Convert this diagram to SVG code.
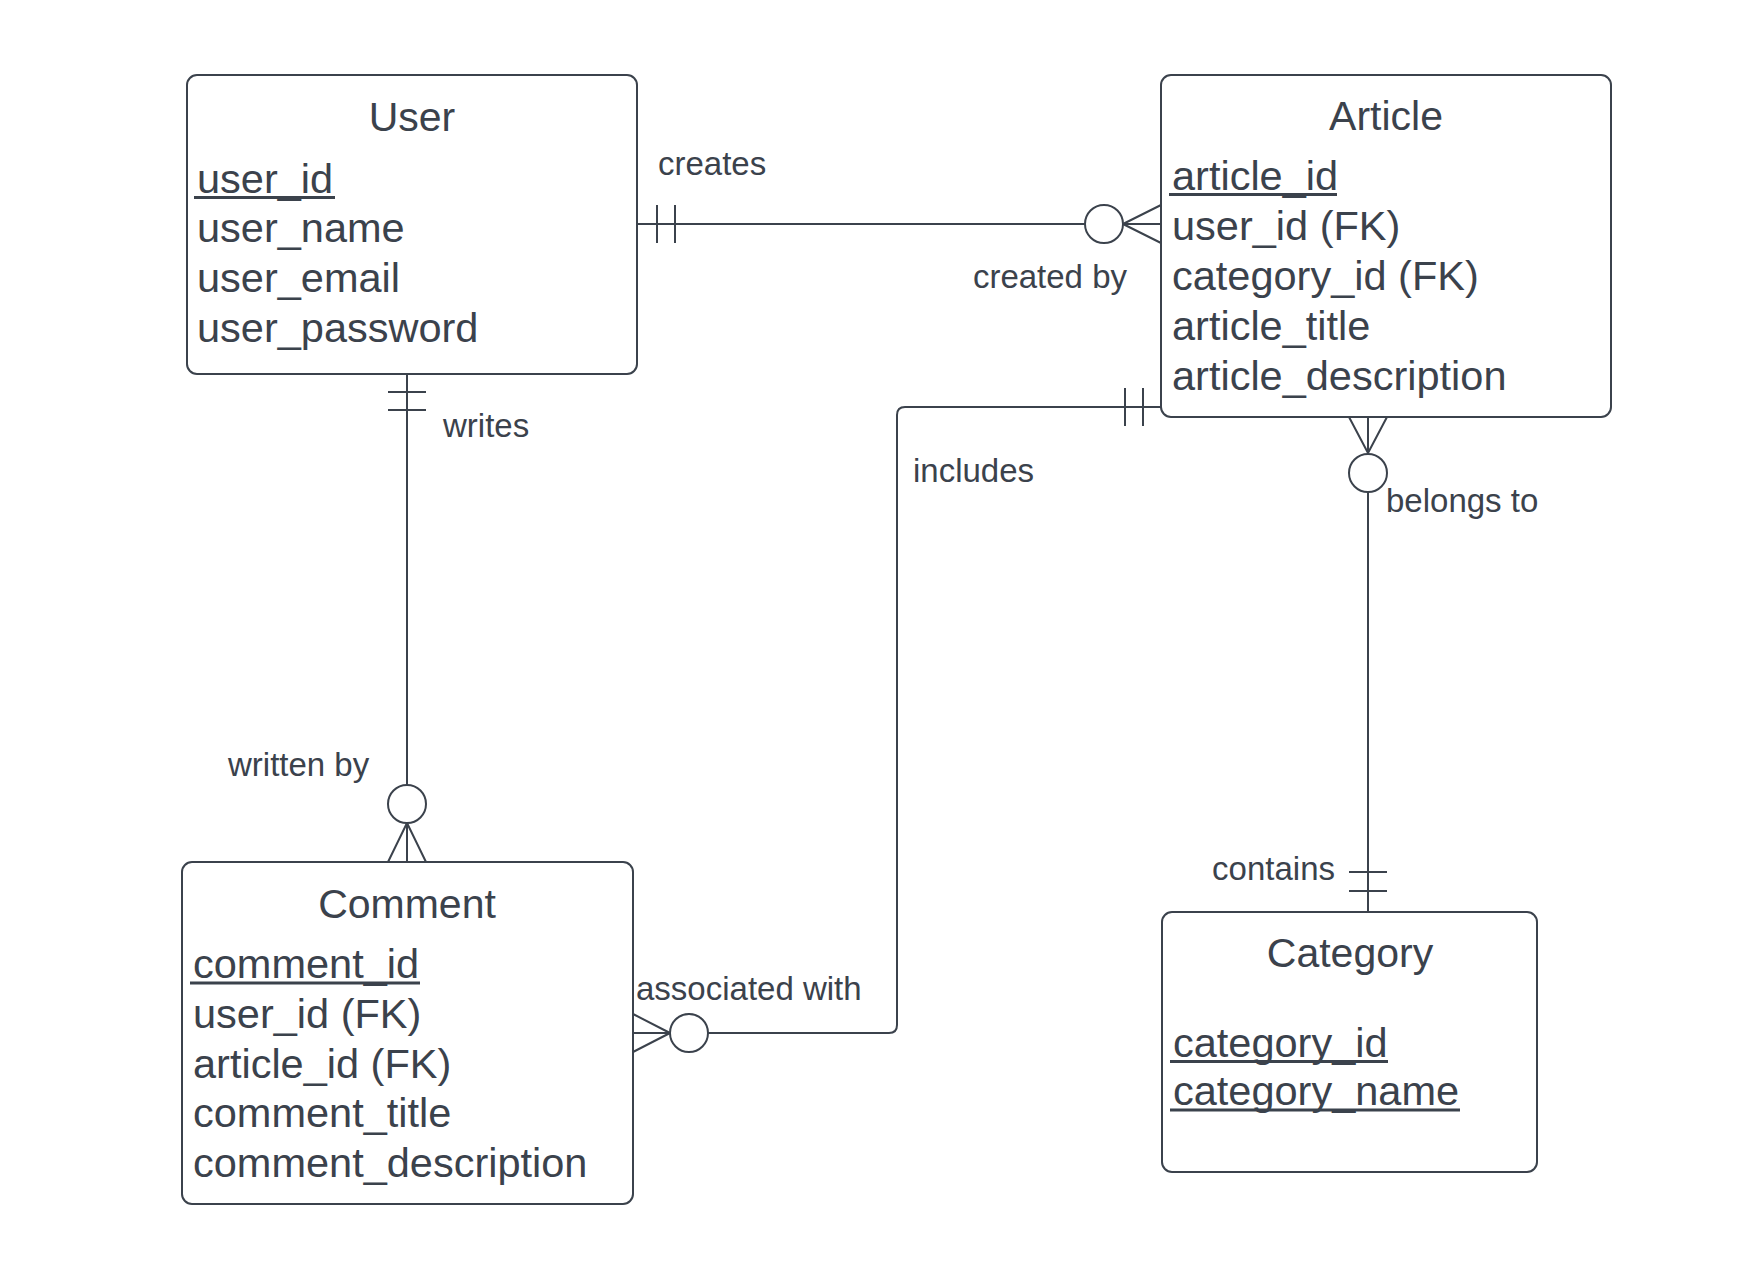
<svg xmlns="http://www.w3.org/2000/svg" width="1763" height="1281" viewBox="0 0 1763 1281">
<style>
.box{fill:#fff;stroke:#3b424c;stroke-width:2}
.ln{fill:none;stroke:#3b424c;stroke-width:2}
.title{font-family:"Liberation Sans",Arial,sans-serif;font-size:41px;fill:#3b424c;text-anchor:middle}
.attr{font-family:"Liberation Sans",Arial,sans-serif;font-size:41.5px;fill:#3b424c}
.ul{stroke:#3b424c;stroke-width:3}
.lbl{font-family:"Liberation Sans",Arial,sans-serif;font-size:33px;fill:#3b424c}
</style>
<rect width="1763" height="1281" fill="#fff"/>
<g id="connectors">
  <g id="creates">
    <line class="ln" x1="637" y1="224" x2="1085" y2="224"/>
    <line class="ln" x1="657" y1="205" x2="657" y2="243"/>
    <line class="ln" x1="675" y1="205" x2="675" y2="243"/>
    <circle class="ln" cx="1104" cy="224" r="19"/>
    <path class="ln" d="M1123,224 L1161,205 M1123,224 L1161,243 M1123,224 L1161,224"/>
    <text class="lbl" x="658" y="175">creates</text>
    <text class="lbl" x="1127" y="288" text-anchor="end">created by</text>
  </g>
  <g id="writes">
    <line class="ln" x1="407" y1="374" x2="407" y2="785"/>
    <line class="ln" x1="388" y1="392" x2="426" y2="392"/>
    <line class="ln" x1="388" y1="410" x2="426" y2="410"/>
    <circle class="ln" cx="407" cy="804" r="19"/>
    <path class="ln" d="M407,823 L388,862 M407,823 L426,862 M407,823 L407,862"/>
    <text class="lbl" x="443" y="437">writes</text>
    <text class="lbl" x="228" y="776">written by</text>
  </g>
  <g id="includes">
    <path class="ln" d="M1161,407 H905 Q897,407 897,415 V1025 Q897,1033 889,1033 H708"/>
    <line class="ln" x1="1125" y1="388" x2="1125" y2="426"/>
    <line class="ln" x1="1143" y1="388" x2="1143" y2="426"/>
    <circle class="ln" cx="689" cy="1033" r="19"/>
    <path class="ln" d="M670,1033 L633,1014 M670,1033 L633,1052 M670,1033 L633,1033"/>
    <text class="lbl" x="913" y="482">includes</text>
    <text class="lbl" x="636" y="1000">associated with</text>
  </g>
  <g id="belongs">
    <path class="ln" d="M1368,453 L1349,417 M1368,453 L1387,417 M1368,453 L1368,417"/>
    <circle class="ln" cx="1368" cy="473" r="19"/>
    <line class="ln" x1="1368" y1="492" x2="1368" y2="912"/>
    <line class="ln" x1="1349" y1="872" x2="1387" y2="872"/>
    <line class="ln" x1="1349" y1="891" x2="1387" y2="891"/>
    <text class="lbl" x="1386" y="512">belongs to</text>
    <text class="lbl" x="1335" y="880" text-anchor="end">contains</text>
  </g>
</g>
<g id="User">
  <rect class="box" x="187" y="75" width="450" height="299" rx="10"/>
  <text class="title" x="412" y="131">User</text>
  <text class="attr" x="197" y="193">user_id</text>
  <line class="ul" x1="194" y1="197.5" x2="335" y2="197.5"/>
  <text class="attr" x="197" y="242">user_name</text>
  <text class="attr" x="197" y="292">user_email</text>
  <text class="attr" x="197" y="342">user_password</text>
</g>
<g id="Article">
  <rect class="box" x="1161" y="75" width="450" height="342" rx="10"/>
  <text class="title" x="1386" y="130">Article</text>
  <text class="attr" x="1172" y="190">article_id</text>
  <line class="ul" x1="1169" y1="194.5" x2="1337" y2="194.5"/>
  <text class="attr" x="1172" y="240">user_id (FK)</text>
  <text class="attr" x="1172" y="290">category_id (FK)</text>
  <text class="attr" x="1172" y="340">article_title</text>
  <text class="attr" x="1172" y="390">article_description</text>
</g>
<g id="Comment">
  <rect class="box" x="182" y="862" width="451" height="342" rx="10"/>
  <text class="title" x="407" y="918">Comment</text>
  <text class="attr" x="193" y="978">comment_id</text>
  <line class="ul" x1="190" y1="983" x2="420" y2="983"/>
  <text class="attr" x="193" y="1028">user_id (FK)</text>
  <text class="attr" x="193" y="1078">article_id (FK)</text>
  <text class="attr" x="193" y="1127">comment_title</text>
  <text class="attr" x="193" y="1177">comment_description</text>
</g>
<g id="Category">
  <rect class="box" x="1162" y="912" width="375" height="260" rx="10"/>
  <text class="title" x="1350" y="967">Category</text>
  <text class="attr" x="1173" y="1057">category_id</text>
  <line class="ul" x1="1170" y1="1061.5" x2="1388" y2="1061.5"/>
  <text class="attr" x="1173" y="1105">category_name</text>
  <line class="ul" x1="1170" y1="1110" x2="1460" y2="1110"/>
</g>
</svg>
